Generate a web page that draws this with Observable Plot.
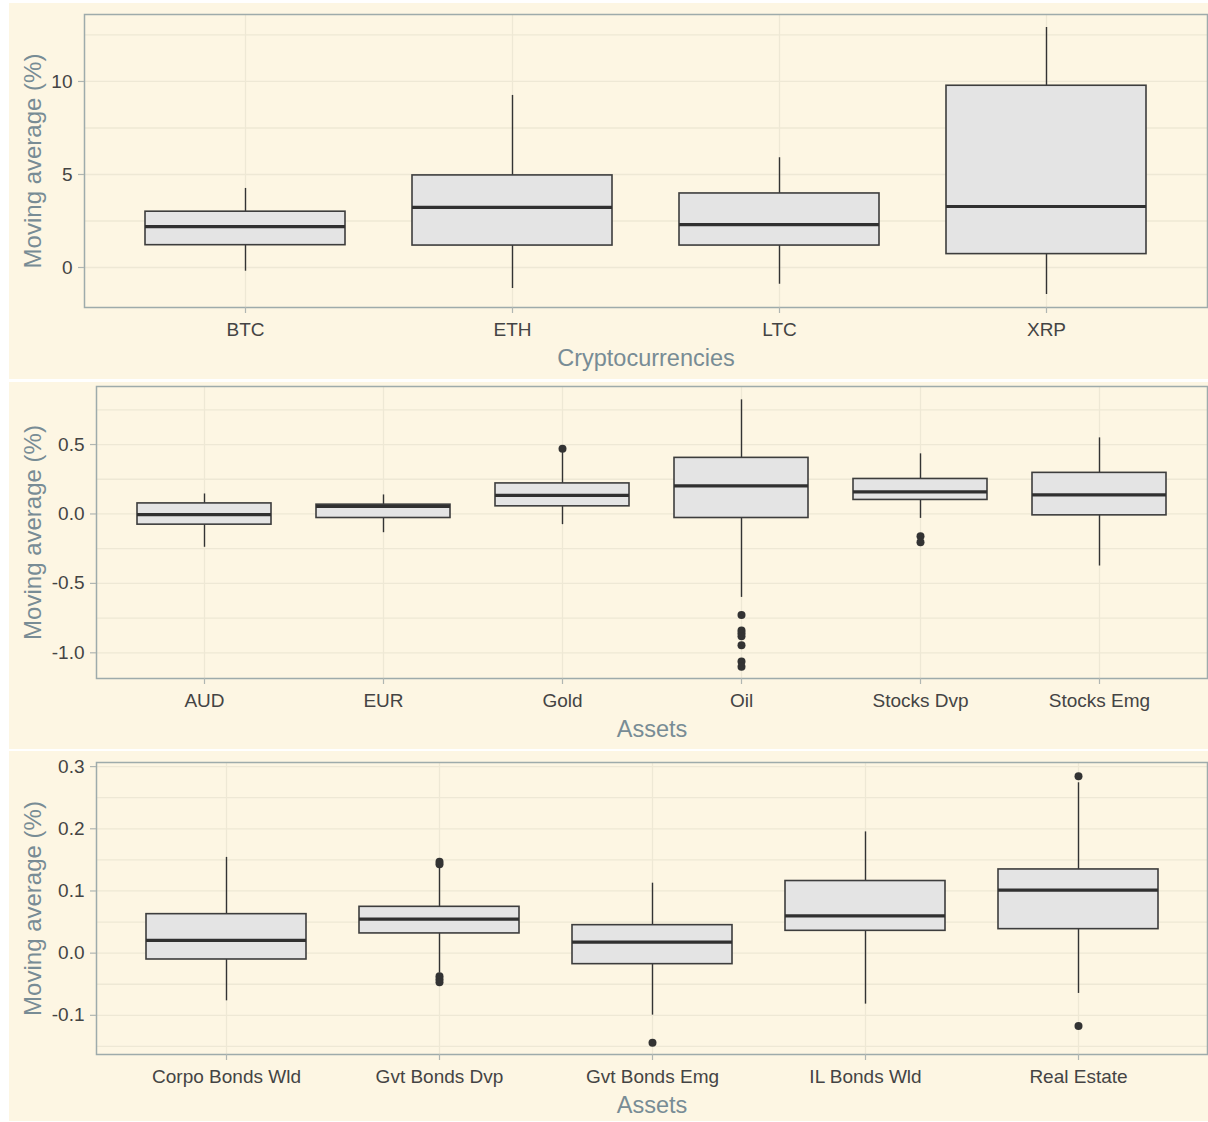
<!DOCTYPE html>
<html>
<head>
<meta charset="utf-8">
<script src="https://cdn.jsdelivr.net/npm/d3@7"></script>
<script src="https://cdn.jsdelivr.net/npm/@observablehq/plot@0.6"></script>
<style>
  html, body { margin: 0; padding: 0; background: #ffffff; }
  #wrap { position: relative; width: 1208px; height: 1122px; }
  .panel { position: absolute; left: 9px; width: 1199px; background: #fdf6e3; }
  .panel svg { display: block; }
</style>
</head>
<body>
<div id="wrap">
  <div class="panel" id="p1" style="top:3px;height:376px"></div>
  <div class="panel" id="p2" style="top:382px;height:367px"></div>
  <div class="panel" id="p3" style="top:751px;height:370px"></div>
</div>
<script>
// ---- Panel 1: cryptocurrencies ----
const cryptoCats = ["BTC", "ETH", "LTC", "XRP"];
const cryptoLow = [-0.2, -1.13, -0.9, -1.45];
const cryptoQ1 = [1.2, 1.18, 1.18, 0.72];
const cryptoMedian = [2.2, 3.23, 2.31, 3.28];
const cryptoQ3 = [3.0, 4.95, 3.98, 9.77];
const cryptoHigh = [4.25, 9.25, 5.9, 12.9];
const cryptoOutliers = [[], [], [], []];
const cryptoTicks = [0, 5, 10];
const cryptoMinor = [2.5, 7.5, 12.5];

// ---- Panel 2: assets ----
const assetCats = ["AUD", "EUR", "Gold", "Oil", "Stocks Dvp", "Stocks Emg"];
const assetLow = [-0.24, -0.135, -0.077, -0.601, -0.032, -0.375];
const assetQ1 = [-0.077, -0.029, 0.055, -0.029, 0.101, -0.01];
const assetMedian = [-0.005, 0.054, 0.134, 0.202, 0.159, 0.137];
const assetQ3 = [0.076, 0.067, 0.22, 0.404, 0.252, 0.296];
const assetHigh = [0.144, 0.137, 0.442, 0.822, 0.433, 0.548];
const assetOutliers = [[], [], [0.469], [-0.728, -0.84, -0.86, -0.88, -0.945, -1.062, -1.1], [-0.16, -0.203], []];
const assetTicks = [-1.0, -0.5, 0.0, 0.5];
const assetMinor = [-0.75, -0.25, 0.25, 0.75];

// ---- Panel 3: bonds & real estate ----
const bondCats = ["Corpo Bonds Wld", "Gvt Bonds Dvp", "Gvt Bonds Emg", "IL Bonds Wld", "Real Estate"];
const bondLow = [-0.0767, -0.032, -0.0997, -0.082, -0.0648];
const bondQ1 = [-0.0102, 0.0317, -0.0177, 0.0359, 0.0386];
const bondMedian = [0.0204, 0.0547, 0.0177, 0.06, 0.1013];
const bondQ3 = [0.0627, 0.0745, 0.045, 0.116, 0.1346];
const bondHigh = [0.154, 0.138, 0.1125, 0.195, 0.274];
const bondOutliers = [[], [0.147, 0.143, -0.037, -0.042, -0.047], [-0.144], [], [0.2846, -0.117]];
const bondTicks = [-0.1, 0.0, 0.1, 0.2, 0.3];
const bondMinor = [-0.15, -0.05, 0.05, 0.15, 0.25];

const yTitle = "Moving average (%)";

const cream = "#fdf6e3";
const gridColor = "#eee8d5";
const frameColor = "#9eabab";
const tickColor = "#b0b6b2";
const textColor = "#444444";
const titleColor = "#788c95";
const font = "'Liberation Sans', Arial, sans-serif";

function panel(o) {
  const rows = o.cats.map((c, i) => ({cat: c, lo: o.low[i], q1: o.q1[i], med: o.med[i], q3: o.q3[i], hi: o.high[i]}));
  const outs = o.cats.flatMap((c, i) => o.outliers[i].map(v => ({cat: c, v})));
  return Plot.plot({
    width: 1199,
    height: o.height,
    marginLeft: o.marginLeft,
    marginRight: 1,
    marginTop: o.marginTop,
    marginBottom: o.marginBottom,
    style: {background: cream, fontFamily: font},
    x: {type: "band", domain: o.cats, paddingInner: 0.25, paddingOuter: 0.225, align: 0.5, axis: null},
    y: {domain: o.yDomain, axis: null},
    marks: [
      Plot.gridY(o.minor.concat(o.ticks), {stroke: gridColor, strokeOpacity: 1, strokeWidth: 1.3}),
      Plot.gridX(o.cats, {stroke: gridColor, strokeOpacity: 1, strokeWidth: 1.3}),
      Plot.ruleX(rows, {x: "cat", y1: "lo", y2: "hi", stroke: "#333333", strokeWidth: 1.4}),
      Plot.barY(rows, {x: "cat", y1: "q1", y2: "q3", fill: "#e4e4e4", stroke: "#3d3d3d", strokeWidth: 1.6}),
      Plot.tickY(rows, {x: "cat", y: "med", stroke: "#303030", strokeWidth: 3.2}),
      Plot.dot(outs, {x: "cat", y: "v", r: 4, fill: "#333333", stroke: null}),
      Plot.frame({stroke: frameColor, strokeWidth: 1.5}),
      Plot.axisX({tickSize: 6, tickPadding: 9, stroke: tickColor, strokeWidth: 1.2, fill: textColor, fontSize: 19, label: null}),
      Plot.axisY(o.ticks, {tickSize: 6, tickPadding: 6, stroke: tickColor, strokeWidth: 1.2, fill: textColor, fontSize: 19, tickFormat: o.fmt, label: null}),
      Plot.text([o.xTitle], {frameAnchor: "bottom", dy: 42, lineAnchor: "top", textAnchor: "middle", fontSize: 23.5, fill: titleColor}),
      Plot.text([yTitle], {frameAnchor: "left", dx: o.titleDx, rotate: -90, textAnchor: "middle", lineAnchor: "middle", fontSize: 24, fill: titleColor})
    ]
  });
}

document.getElementById("p1").append(panel({
  cats: cryptoCats, low: cryptoLow, q1: cryptoQ1, med: cryptoMedian, q3: cryptoQ3, high: cryptoHigh, outliers: cryptoOutliers,
  ticks: cryptoTicks, minor: cryptoMinor, yDomain: [-2.15, 13.6], fmt: d => String(d),
  xTitle: "Cryptocurrencies", height: 376, marginLeft: 75, marginTop: 11, marginBottom: 72, titleDx: -51
}));

document.getElementById("p2").append(panel({
  cats: assetCats, low: assetLow, q1: assetQ1, med: assetMedian, q3: assetQ3, high: assetHigh, outliers: assetOutliers,
  ticks: assetTicks, minor: assetMinor, yDomain: [-1.185, 0.918], fmt: d => d.toFixed(1),
  xTitle: "Assets", height: 367, marginLeft: 87, marginTop: 4, marginBottom: 71, titleDx: -63
}));

document.getElementById("p3").append(panel({
  cats: bondCats, low: bondLow, q1: bondQ1, med: bondMedian, q3: bondQ3, high: bondHigh, outliers: bondOutliers,
  ticks: bondTicks, minor: bondMinor, yDomain: [-0.163, 0.3066], fmt: d => d.toFixed(1),
  xTitle: "Assets", height: 370, marginLeft: 87, marginTop: 11, marginBottom: 67, titleDx: -63
}));
</script>
</body>
</html>
